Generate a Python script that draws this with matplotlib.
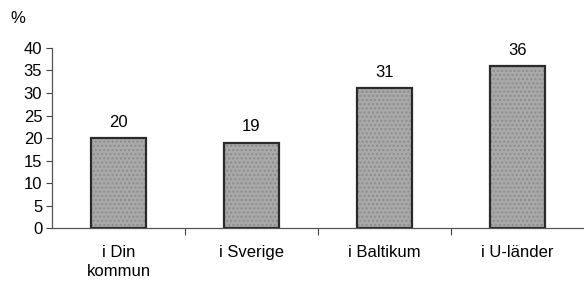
import matplotlib
matplotlib.use('Agg')
import matplotlib.pyplot as plt

categories = ['i Din\nkommun', 'i Sverige', 'i Baltikum', 'i U-länder']
values = [20, 19, 31, 36]
yticks = [0, 5, 10, 15, 20, 25, 30, 35, 40]

plt.rcParams['font.family'] = ['Liberation Sans', 'DejaVu Sans']

fig = plt.figure(figsize=(5.84, 2.82), dpi=100)
ax = fig.add_axes([0.089, 0.191, 0.911, 0.639])

x = list(range(len(categories)))
bars = ax.bar(x, values, width=0.42, color='#a9a9a9', edgecolor='#2a2a2a',
              linewidth=1.6, hatch='....', zorder=2)
for b in bars:
    b._hatch_color = (0.55, 0.55, 0.55, 1)

for xi, v in zip(x, values):
    ax.annotate(str(v), (xi, v), xytext=(0, 6), textcoords='offset points',
                ha='center', va='bottom', fontsize=12)

ax.set_xlim(-0.5, 3.5)
ax.set_ylim(0, 40)
ax.set_yticks(yticks)
ax.tick_params(axis='y', labelsize=12, length=4, width=0.8, color='#444', pad=3)

ax.set_xticks(x)
ax.set_xticklabels(categories, fontsize=12, linespacing=1.35, va='top')
ax.tick_params(axis='x', length=0, pad=12)
ax.set_xticks([0.5, 1.5, 2.5], minor=True)
ax.tick_params(axis='x', which='minor', length=5, width=0.8, color='#444')

for s in ['top', 'right']:
    ax.spines[s].set_visible(False)
ax.spines['left'].set_color('#555')
ax.spines['bottom'].set_color('#555')
ax.spines['left'].set_linewidth(0.9)
ax.spines['bottom'].set_linewidth(0.9)

fig.text(0.017, 0.935, '%', fontsize=12, ha='left', va='center')

fig.savefig('out.png', dpi=100)
